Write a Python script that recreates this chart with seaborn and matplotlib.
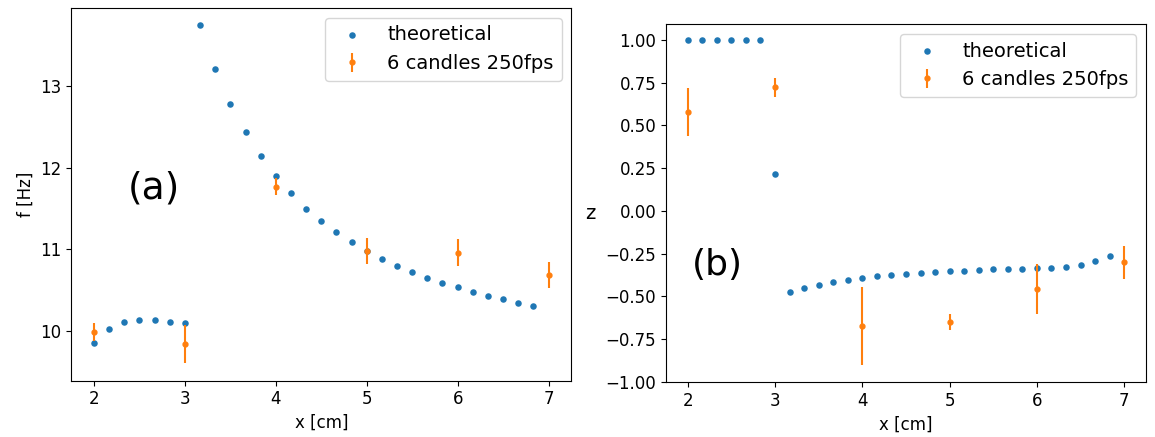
import numpy as np
import pandas as pd
import matplotlib
matplotlib.use('Agg')
import matplotlib.pyplot as plt
import seaborn as sns

# theoretical points, step 1/6 cm
x_theo = [2.0, 2.167, 2.333, 2.5, 2.667, 2.833, 3.0, 3.167, 3.333, 3.5, 3.667, 3.833,
          4.0, 4.167, 4.333, 4.5, 4.667, 4.833, 5.0, 5.167, 5.333, 5.5, 5.667, 5.833,
          6.0, 6.167, 6.333, 6.5, 6.667, 6.833]
f_theo = [9.845, 10.025, 10.107, 10.135, 10.127, 10.107, 10.098, 13.75, 13.22, 12.79,
          12.44, 12.146, 11.897, 11.69, 11.50, 11.35, 11.21, 11.09, 10.98, 10.885,
          10.80, 10.72, 10.65, 10.59, 10.533, 10.48, 10.43, 10.386, 10.344, 10.307]
z_theo = [1.0, 1.0, 1.0, 1.0, 1.0, 1.0, 0.217, -0.474, -0.45, -0.433, -0.417, -0.404,
          -0.394, -0.384, -0.377, -0.369, -0.363, -0.357, -0.353, -0.349, -0.345,
          -0.343, -0.341, -0.339, -0.336, -0.334, -0.33, -0.318, -0.296, -0.263]

# measurements, 6 candles 250fps
x_meas = [2, 3, 4, 5, 6, 7]
f_meas = [9.985, 9.836, 11.77, 10.98, 10.96, 10.685]
f_err = [0.11, 0.235, 0.1, 0.155, 0.165, 0.16]
z_meas = [0.578, 0.724, -0.675, -0.65, -0.458, -0.302]
z_err = [0.14, 0.055, 0.23, 0.048, 0.147, 0.095]

theo = pd.DataFrame({'x': x_theo, 'f': f_theo, 'z': z_theo})

fig = plt.figure(figsize=(11.55, 4.37), dpi=100)
ax1 = fig.add_axes([0.0617, 0.1288, 0.4329, 0.853])
ax2 = fig.add_axes([0.5766, 0.125, 0.4156, 0.82])

blue = '#1f77b4'
orange = '#ff7f0e'

sns.scatterplot(data=theo, x='x', y='f', ax=ax1, color=blue, s=22, linewidth=0,
                label='theoretical')
ax1.errorbar(x_meas, f_meas, yerr=f_err, fmt='.', color=orange, ms=7, elinewidth=1.5,
             label='6 candles 250fps')
ax1.set_xlabel('x [cm]', fontsize=12)
ax1.set_ylabel('f [Hz]', fontsize=12)
ax1.set_yticks([10, 11, 12, 13])
ax1.set_ylim(9.386, 13.964)
ax1.text(0.113, 0.4875, '(a)', transform=ax1.transAxes, fontsize=27)
ax1.legend(loc='upper right', fontsize=14)

sns.scatterplot(data=theo, x='x', y='z', ax=ax2, color=blue, s=22, linewidth=0,
                label='theoretical')
ax2.errorbar(x_meas, z_meas, yerr=z_err, fmt='.', color=orange, ms=7, elinewidth=1.5,
             label='6 candles 250fps')
ax2.set_xlabel('x [cm]', fontsize=12)
ax2.set_ylabel('z', fontsize=14, rotation=0, va='center')
ax2.yaxis.set_label_coords(-0.158, 0.47)
ax2.set_yticks(np.arange(-1.0, 1.01, 0.25))
ax2.set_ylim(-1.004, 1.094)
ax2.text(0.055, 0.2986, '(b)', transform=ax2.transAxes, fontsize=26)
ax2.legend(loc='upper right', fontsize=14)

for ax in (ax1, ax2):
    ax.set_xticks([2, 3, 4, 5, 6, 7])
    ax.set_xlim(1.75, 7.25)
    ax.tick_params(labelsize=12)

fig.savefig('out.png', dpi=100)
